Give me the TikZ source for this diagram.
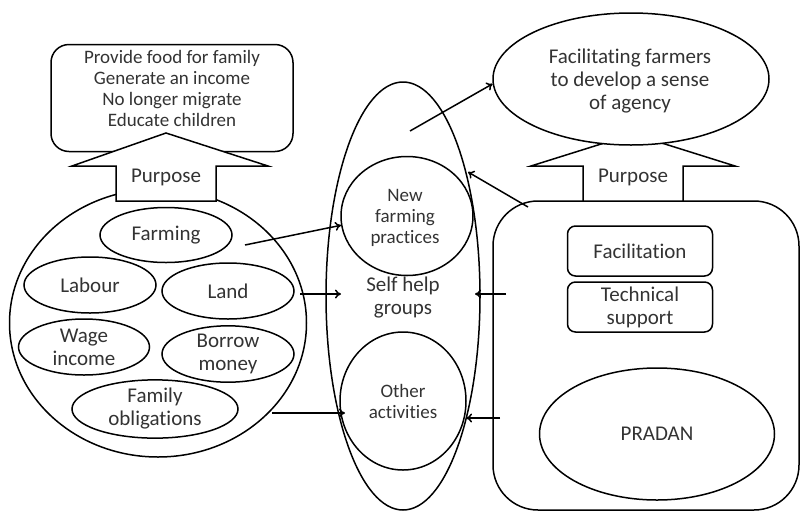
\documentclass[tikz,border=0pt]{standalone}
\usepackage{fontspec}
\setmainfont{Carlito}[Ligatures={NoCommon}]
\usetikzlibrary{shapes.geometric,arrows.meta}
\begin{document}
\begin{tikzpicture}[x=1pt,y=-1pt, line width=1.5pt,
  every node/.style={font=\fontsize{21}{23}\selectfont, align=center, inner sep=0pt, text=black!80},
  ell/.style={draw, ellipse, fill=white},
  smalltxt/.style={font=\fontsize{19}{21}\selectfont},
  blockarrow/.style={draw, fill=white, line join=miter},
  arr/.style={-{To[length=6pt,width=9pt]}},
  ]
\useasboundingbox (0,0) rectangle (801,512);

% ---------- left part ----------
\node[draw, rounded corners=18pt, minimum width=242pt, minimum height=107pt, fill=white] (goals) at (172,98) {};
\node[smalltxt] (goalstext) at (172,88) {Provide food for family\\Generate an income\\No longer migrate\\Educate children};

\node[draw, ellipse, minimum width=297pt, minimum height=268pt] (farm) at (158,323) {};

\draw[blockarrow] (166,133) -- (268,166) -- (216,166) -- (216,201) -- (116,201) -- (116,166) -- (72,166) -- cycle;
\node[anchor=base] (purl) at (166,182) {Purpose};

\node[ell, minimum width=132pt, minimum height=55pt] (farming) at (166,235) {Farming};
\node[ell, minimum width=132pt, minimum height=56pt] (labour) at (90,285) {Labour};
\node[ell, minimum width=132pt, minimum height=56pt] (land) at (228,291) {Land};
\node[ell, minimum width=131pt, minimum height=56pt] (wage) at (84,347) {Wage\\income};
\node[ell, minimum width=132pt, minimum height=56pt] (borrow) at (228,354) {Borrow\\money};
\node[ell, minimum width=166pt, minimum height=57pt] (family) at (155,409) {Family\\obligations};

% ---------- middle ----------
\node[draw, ellipse, minimum width=154pt, minimum height=428pt] (shg) at (403,296) {};
\node (shgtext) at (403,298) {Self help\\groups};
\node[draw, ellipse, minimum width=132pt, minimum height=119pt] (npr) at (407,216) {};
\node[smalltxt] (nprtext) at (405,218) {New\\farming\\practices};
\node[draw, ellipse, minimum width=126pt, minimum height=138pt] (oa) at (403,401) {};
\node[smalltxt] (oatext) at (403,401) {Other\\activities};

% ---------- right part ----------
\node[draw, rounded corners=45pt, minimum width=306pt, minimum height=309pt] (pradbox) at (646,355.5) {};
\draw[blockarrow] (633,134) -- (735,166) -- (683,166) -- (683,201) -- (583,201) -- (583,166) -- (531,166) -- cycle;
\node[anchor=base] (purr) at (633,182) {Purpose};
\node[ell, minimum width=276pt, minimum height=132pt] (fac) at (631,79) {};
\node (factext) at (630,81) {Facilitating farmers\\to develop a sense\\of agency};

\node[draw, rounded corners=8pt, minimum width=145pt, minimum height=50pt] (facil) at (640,251) {Facilitation};
\node[draw, rounded corners=8pt, minimum width=145pt, minimum height=50pt] (tech) at (640,307) {Technical\\support};
\node[draw, ellipse, minimum width=235pt, minimum height=132pt] (pradan) at (657,434) {PRADAN};

% ---------- connectors ----------
\coordinate (a1s) at (245,245);
\coordinate (a2s) at (300,294);
\coordinate (a2e) at (341,294);
\coordinate (a3s) at (272,413);
\coordinate (a3e) at (345,413);
\coordinate (a4s) at (410,131);
\coordinate (a5s) at (528,207);
\coordinate (a5e) at (468,172);
\coordinate (a6s) at (506,294);
\coordinate (a6e) at (475,294);
\coordinate (a7s) at (500,418);
\coordinate (a7e) at (466,418);

\draw[arr] (a1s) -- (npr.188);
\draw[arr] (a2s) -- (a2e);
\draw[arr] (a3s) -- (a3e);
\draw[arr] (a4s) -- (fac.182);
\draw[arr] (a5s) -- (a5e);
\draw[arr] (a6s) -- (a6e);
\draw[arr] (a7s) -- (a7e);
\end{tikzpicture}
\end{document}
